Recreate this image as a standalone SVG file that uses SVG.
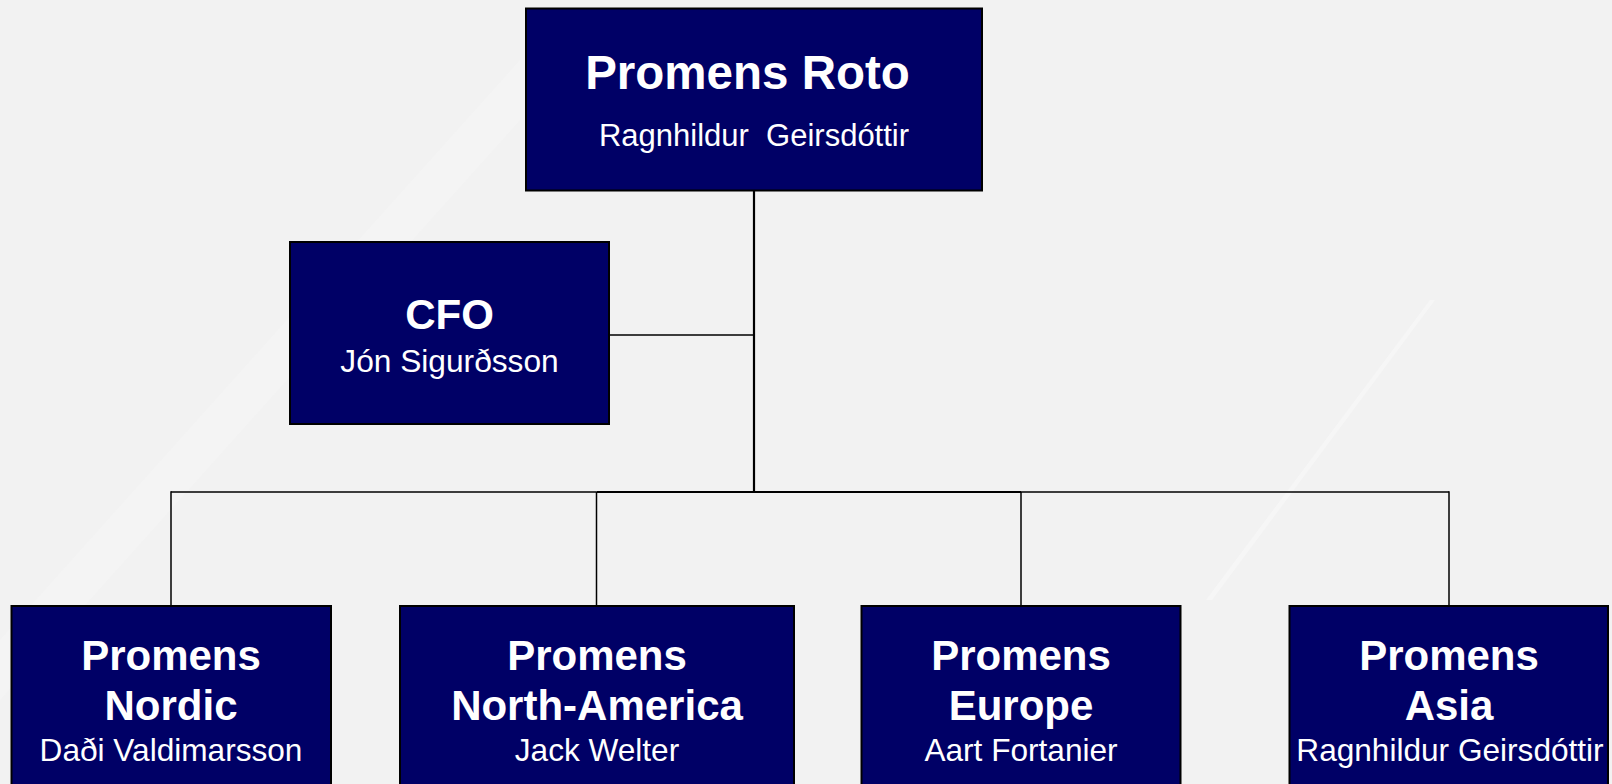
<svg xmlns="http://www.w3.org/2000/svg" width="1612" height="784" viewBox="0 0 1612 784">
  <style>
    .box { fill: #000066; stroke: #000000; stroke-width: 2; }
    .t { fill: #ffffff; font-family: "Liberation Sans", Arial, sans-serif; text-anchor: middle; }
    .b { font-weight: bold; }
    .line { stroke: #000000; stroke-width: 1.5; fill: none; }
    .thick { stroke-width: 2.2; }
  </style>
  <rect x="0" y="0" width="1612" height="784" fill="#f2f2f2"/>
  <polygon points="0,700 0,640 520,60 520,120" fill="#f4f4f4"/>
  <polygon points="1206,600 1212,600 1435,300 1430,300" fill="#f6f6f6"/>

  <g id="connectors">
    <line class="line thick" x1="754" y1="190" x2="754" y2="493"/>
    <line class="line" x1="609" y1="335" x2="754" y2="335"/>
    <line class="line" x1="171" y1="492" x2="596.5" y2="492"/>
    <line class="line thick" x1="596.5" y1="492" x2="1021" y2="492"/>
    <line class="line" x1="1021" y1="492" x2="1449" y2="492"/>
    <line class="line" x1="171" y1="491.3" x2="171" y2="606"/>
    <line class="line" x1="596.5" y1="492" x2="596.5" y2="606"/>
    <line class="line" x1="1021" y1="492" x2="1021" y2="606"/>
    <line class="line" x1="1449" y1="491.3" x2="1449" y2="606"/>
  </g>

  <g id="node-roto">
    <rect class="box" x="526" y="8.5" width="456" height="182"/>
    <text class="t b" x="747.5" y="89" font-size="47.5">Promens Roto</text>
    <text class="t" x="754" y="146" font-size="31" xml:space="preserve">Ragnhildur  Geirsdóttir</text>
  </g>

  <g id="node-cfo">
    <rect class="box" x="290" y="242" width="319" height="182"/>
    <text class="t b" x="449.5" y="328.5" font-size="42">CFO</text>
    <text class="t" x="449.5" y="372" font-size="31.7">Jón Sigurðsson</text>
  </g>

  <g id="node-nordic">
    <rect class="box" x="11.5" y="606" width="319.5" height="190"/>
    <text class="t b" x="171" y="670" font-size="42">Promens</text>
    <text class="t b" x="171" y="720" font-size="42">Nordic</text>
    <text class="t" x="171" y="761" font-size="31.6">Daði Valdimarsson</text>
  </g>

  <g id="node-northamerica">
    <rect class="box" x="400" y="606" width="394" height="190"/>
    <text class="t b" x="597" y="670" font-size="42">Promens</text>
    <text class="t b" x="597" y="720" font-size="42">North-America</text>
    <text class="t" x="597" y="761" font-size="31.6">Jack Welter</text>
  </g>

  <g id="node-europe">
    <rect class="box" x="861.5" y="606" width="319" height="190"/>
    <text class="t b" x="1021" y="670" font-size="42">Promens</text>
    <text class="t b" x="1021" y="720" font-size="42">Europe</text>
    <text class="t" x="1021" y="761" font-size="31.6">Aart Fortanier</text>
  </g>

  <g id="node-asia">
    <rect class="box" x="1289.5" y="606" width="318.5" height="190"/>
    <text class="t b" x="1449" y="670" font-size="42">Promens</text>
    <text class="t b" x="1449" y="720" font-size="42">Asia</text>
    <text class="t" x="1450" y="761" font-size="31.6">Ragnhildur Geirsdóttir</text>
  </g>
</svg>
